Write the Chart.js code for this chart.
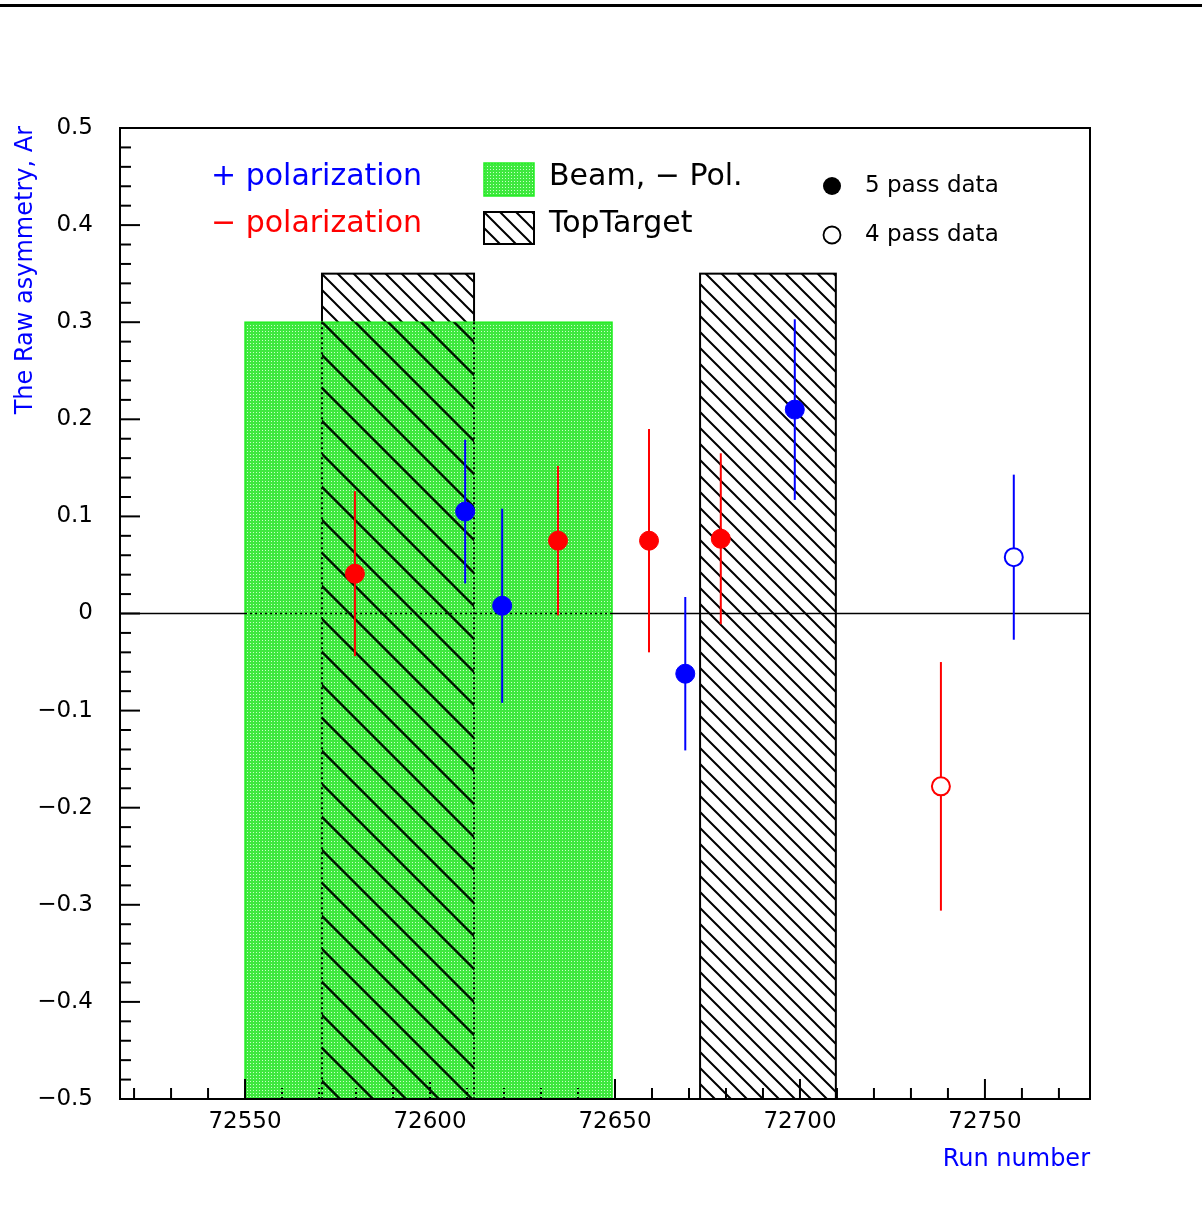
<!DOCTYPE html>
<html>
<head>
<meta charset="utf-8">
<script src="https://cdn.jsdelivr.net/npm/chart.js@4"></script>
<style>
  html, body { margin: 0; padding: 0; background: #ffffff; }
  #wrap { width: 1202px; height: 1218px; position: relative; }
</style>
</head>
<body>
<div id="wrap"><canvas id="chart" width="1202" height="1218"></canvas></div>
<script>
// ==================== DATA ====================

// + polarization, 5 pass (filled blue)
const runsPlus5 = [72609.5, 72619.5, 72669, 72698.6];
const asymPlus5 = [0.105, 0.008, -0.062, 0.21];
const errPlus5 = [0.074, 0.1, 0.079, 0.093];

// - polarization, 5 pass (filled red)
const runsMinus5 = [72579.7, 72634.6, 72659.2, 72678.6];
const asymMinus5 = [0.041, 0.075, 0.075, 0.077];
const errMinus5 = [0.085, 0.077, 0.115, 0.088];

// 4 pass (open markers)
const runsPlus4 = [72757.8];
const asymPlus4 = [0.058];
const errPlus4 = [0.085];
const runsMinus4 = [72738.1];
const asymMinus4 = [-0.178];
const errMinus4 = [0.128];

// Shaded run ranges
const beamRange = [72550, 72649.2];
const beamTop = 0.3;
const targetRanges = [[72570.8, 72611.9], [72673, 72709.7]];
const targetTop = 0.35;

// Axes
const xMin = 72516.2, xMax = 72778.4;
const yMin = -0.5, yMax = 0.5;
const xTickLabels = [72550, 72600, 72650, 72700, 72750];
const yTickLabels = [0.5, 0.4, 0.3, 0.2, 0.1, 0, -0.1, -0.2, -0.3, -0.4, -0.5];

const BLUE = '#0000ff';
const RED = '#ff0000';
const FONT = '"DejaVu Sans", sans-serif';

// ==================== PATTERNS ====================

function makeGreenPattern(ctx) {
    const c = document.createElement('canvas');
    c.width = 3; c.height = 3;
    const g = c.getContext('2d');
    g.fillStyle = '#3ee83e';
    g.fillRect(0, 0, 3, 3);
    g.fillStyle = '#c8ffc8';
    g.fillRect(1, 1, 1, 1);
    return ctx.createPattern(c, 'repeat');
}

function makeHatchPattern(ctx, step, color, width) {
    const c = document.createElement('canvas');
    c.width = step; c.height = step;
    const g = c.getContext('2d');
    g.strokeStyle = color;
    g.lineWidth = width;
    g.beginPath();
    for (let k = -1; k <= 1; k++) {
        g.moveTo(k * step - 2, -2);
        g.lineTo(k * step + step + 2, step + 2);
    }
    g.stroke();
    return ctx.createPattern(c, 'repeat');
}

// ==================== PLUGINS ====================

const backgroundPlugin = {
    id: 'rootFrame',
    beforeDatasetsDraw(chart) {
        const { ctx, chartArea: a, scales: { x, y } } = chart;
        ctx.save();

        // page top rule
        ctx.fillStyle = '#000';
        ctx.fillRect(0, 4, chart.width, 3);

        const green = makeGreenPattern(ctx);
        const hatch = makeHatchPattern(ctx, 16, '#000', 2);
        const hatchSparse = makeHatchPattern(ctx, 33, '#031a03', 2.5);

        const yb = y.getPixelForValue(yMin);
        const yTarget = y.getPixelForValue(targetTop);
        const yBeam = y.getPixelForValue(beamTop);

        // target boxes (hatched)
        targetRanges.forEach(r => {
            const x0 = x.getPixelForValue(r[0]);
            const x1 = x.getPixelForValue(r[1]);
            ctx.fillStyle = '#fff';
            ctx.fillRect(x0, yTarget, x1 - x0, yb - yTarget);
            ctx.fillStyle = hatch;
            ctx.fillRect(x0, yTarget, x1 - x0, yb - yTarget);
            ctx.strokeStyle = '#000';
            ctx.lineWidth = 2;
            ctx.strokeRect(x0, yTarget, x1 - x0, yb - yTarget);
        });

        // beam box (green)
        const bx0 = x.getPixelForValue(beamRange[0]);
        const bx1 = x.getPixelForValue(beamRange[1]);
        ctx.fillStyle = green;
        ctx.fillRect(bx0, yBeam, bx1 - bx0, yb - yBeam);
        ctx.strokeStyle = '#22ee22';
        ctx.lineWidth = 1.5;
        ctx.strokeRect(bx0, yBeam, bx1 - bx0, yb - yBeam);

        // target hatch seen through the beam box
        targetRanges.forEach(r => {
            const lo = Math.max(r[0], beamRange[0]);
            const hi = Math.min(r[1], beamRange[1]);
            if (hi <= lo) return;
            const x0 = x.getPixelForValue(lo);
            const x1 = x.getPixelForValue(hi);
            ctx.fillStyle = hatchSparse;
            ctx.fillRect(x0, yBeam, x1 - x0, yb - yBeam);
            ctx.strokeStyle = '#000';
            ctx.lineWidth = 2;
            ctx.setLineDash([2, 3]);
            ctx.beginPath();
            ctx.moveTo(x0, yBeam); ctx.lineTo(x0, yb);
            ctx.moveTo(x1, yBeam); ctx.lineTo(x1, yb);
            ctx.stroke();
            ctx.setLineDash([]);
        });

        // zero line, dotted where it crosses the beam box
        const y0 = y.getPixelForValue(0);
        ctx.strokeStyle = '#000';
        ctx.lineWidth = 1.5;
        ctx.beginPath();
        ctx.moveTo(a.left, y0); ctx.lineTo(bx0, y0);
        ctx.moveTo(bx1, y0); ctx.lineTo(a.right, y0);
        ctx.stroke();
        ctx.setLineDash([2, 3]);
        ctx.beginPath();
        ctx.moveTo(bx0, y0); ctx.lineTo(bx1, y0);
        ctx.stroke();
        ctx.setLineDash([]);

        // frame
        ctx.lineWidth = 2;
        ctx.strokeRect(a.left, a.top, a.right - a.left, a.bottom - a.top);

        // x ticks (inward), minor every 10, major every 50
        for (let v = Math.ceil(xMin / 10) * 10; v <= xMax; v += 10) {
            const px = x.getPixelForValue(v);
            const len = v % 50 === 0 ? 20 : 11;
            const inBeam = v > beamRange[0] && v < beamRange[1];
            ctx.setLineDash(inBeam ? [2, 3] : []);
            ctx.beginPath();
            ctx.moveTo(px, a.bottom); ctx.lineTo(px, a.bottom - len);
            ctx.stroke();
        }
        ctx.setLineDash([]);
        // y ticks (inward), minor every 0.02, major every 0.1
        for (let i = 0; i <= 50; i++) {
            const v = yMin + i * 0.02;
            const py = y.getPixelForValue(v);
            const len = i % 5 === 0 ? 20 : 11;
            ctx.beginPath();
            ctx.moveTo(a.left, py); ctx.lineTo(a.left + len, py);
            ctx.stroke();
        }

        // tick labels
        ctx.fillStyle = '#000';
        ctx.font = '23px ' + FONT;
        ctx.textAlign = 'center';
        ctx.textBaseline = 'middle';
        xTickLabels.forEach(v => {
            ctx.fillText(String(v), x.getPixelForValue(v), a.bottom + 23);
        });
        ctx.textAlign = 'right';
        yTickLabels.forEach(v => {
            const txt = v < 0 ? '\u2212' + String(-v) : String(v);
            ctx.fillText(txt, a.left - 27, y.getPixelForValue(v));
        });

        // axis titles
        ctx.fillStyle = BLUE;
        ctx.font = '24px ' + FONT;
        ctx.textAlign = 'right';
        ctx.fillText('Run number', a.right, a.bottom + 61);
        ctx.save();
        ctx.translate(26, a.top - 2);
        ctx.rotate(-Math.PI / 2);
        ctx.font = '24px ' + FONT;
        ctx.textAlign = 'right';
        ctx.fillText('The Raw asymmetry, Ar', 0, 0);
        ctx.restore();

        // legend
        ctx.font = '30px ' + FONT;
        ctx.textAlign = 'left';
        ctx.fillStyle = BLUE;
        ctx.fillText('+ polarization', 211, 177);
        ctx.fillStyle = RED;
        ctx.fillText('\u2212 polarization', 211, 224);

        ctx.fillStyle = green;
        ctx.fillRect(484, 163, 50, 33);
        ctx.strokeStyle = '#22ee22';
        ctx.lineWidth = 1.5;
        ctx.strokeRect(484, 163, 50, 33);
        ctx.fillStyle = hatch;
        ctx.fillRect(484, 212, 50, 32);
        ctx.strokeStyle = '#000';
        ctx.lineWidth = 2;
        ctx.strokeRect(484, 212, 50, 32);

        ctx.fillStyle = '#000';
        ctx.fillText('Beam, \u2212 Pol.', 549, 177);
        ctx.fillText('TopTarget', 549, 224);

        ctx.beginPath();
        ctx.arc(832, 186, 9, 0, Math.PI * 2);
        ctx.fill();
        ctx.beginPath();
        ctx.arc(832, 235, 8.5, 0, Math.PI * 2);
        ctx.lineWidth = 1.8;
        ctx.stroke();
        ctx.font = '23px ' + FONT;
        ctx.fillText('5 pass data', 865, 186);
        ctx.fillText('4 pass data', 865, 235);

        // error bars
        const series = [
            [runsPlus5, asymPlus5, errPlus5, BLUE],
            [runsMinus5, asymMinus5, errMinus5, RED],
            [runsPlus4, asymPlus4, errPlus4, BLUE],
            [runsMinus4, asymMinus4, errMinus4, RED]
        ];
        ctx.lineWidth = 2;
        series.forEach(([rx, ry, re, col]) => {
            ctx.strokeStyle = col;
            rx.forEach((r, i) => {
                const px = x.getPixelForValue(r);
                ctx.beginPath();
                ctx.moveTo(px, y.getPixelForValue(ry[i] + re[i]));
                ctx.lineTo(px, y.getPixelForValue(ry[i] - re[i]));
                ctx.stroke();
            });
        });

        ctx.restore();
    }
};

// ==================== CHART ====================

const toPoints = (xs, ys) => xs.map((v, i) => ({ x: v, y: ys[i] }));

new Chart(document.getElementById('chart').getContext('2d'), {
    type: 'scatter',
    data: {
        datasets: [
            {
                label: '+ polarization (5 pass)',
                data: toPoints(runsPlus5, asymPlus5),
                backgroundColor: BLUE,
                borderColor: BLUE,
                pointRadius: 9.5,
                borderWidth: 1
            },
            {
                label: '- polarization (5 pass)',
                data: toPoints(runsMinus5, asymMinus5),
                backgroundColor: RED,
                borderColor: RED,
                pointRadius: 9.5,
                borderWidth: 1
            },
            {
                label: '+ polarization (4 pass)',
                data: toPoints(runsPlus4, asymPlus4),
                backgroundColor: '#ffffff',
                borderColor: BLUE,
                pointRadius: 9,
                borderWidth: 2
            },
            {
                label: '- polarization (4 pass)',
                data: toPoints(runsMinus4, asymMinus4),
                backgroundColor: '#ffffff',
                borderColor: RED,
                pointRadius: 9,
                borderWidth: 2
            }
        ]
    },
    options: {
        responsive: false,
        animation: false,
        devicePixelRatio: 1,
        layout: { padding: { left: 120, top: 128, right: 112, bottom: 119 } },
        plugins: { legend: { display: false }, tooltip: { enabled: false } },
        scales: {
            x: { type: 'linear', min: xMin, max: xMax, display: false },
            y: { type: 'linear', min: yMin, max: yMax, display: false }
        }
    },
    plugins: [backgroundPlugin]
});
</script>
</body>
</html>
